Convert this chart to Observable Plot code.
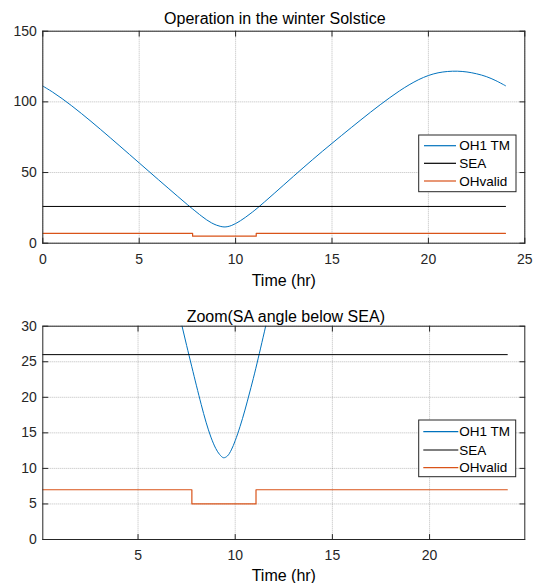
<!DOCTYPE html>
<html>
<head>
<meta charset="utf-8">
<script src="https://cdn.jsdelivr.net/npm/d3@7"></script>
<script src="https://cdn.jsdelivr.net/npm/@observablehq/plot@0.6"></script>
<style>
  body { margin: 0; background: white; }
  #chart svg { display: block; }
</style>
</head>
<body>
<div id="chart"></div>
<script>
// ---- data ----
const tHours = [0, 0.5, 1, 1.5, 2, 2.5, 3, 3.5, 4, 4.5, 5, 5.5, 6, 6.5, 7, 7.5, 8, 8.25, 8.5, 8.75, 9, 9.2, 9.4, 9.6, 9.8, 10, 10.25, 10.5, 10.75, 11, 11.5, 12, 12.5, 13, 13.5, 14, 14.5, 15, 15.5, 16, 16.5, 17, 17.5, 18, 18.5, 19, 19.5, 20, 20.5, 21, 21.5, 22, 22.5, 23, 23.5, 24];
const oh1TM = [111.2, 107.0, 102.3, 97.2, 91.8, 86.2, 80.45, 74.6, 68.7, 62.75, 56.8, 50.85, 44.9, 39.0, 33.1, 27.3, 21.7, 19.0, 16.5, 14.4, 12.8, 11.95, 11.5, 11.75, 12.6, 13.9, 15.9, 18.2, 20.75, 23.4, 29.2, 35.2, 41.25, 47.3, 53.3, 59.2, 65.0, 70.65, 76.25, 81.8, 87.3, 92.7, 97.95, 103.0, 107.75, 112.05, 115.75, 118.65, 120.55, 121.5, 121.7, 121.15, 119.85, 117.9, 115.0, 111.4];
const seaT = [0, 24];
const seaV = [26, 26];
const validT = [0, 7.77, 7.77, 11.07, 11.07, 24];
const validV = [7, 7, 5, 5, 7, 7];
const seriesNames = ["OH1 TM", "SEA", "OHvalid"];
const seriesColors = ["#0072BD", "#000000", "#D95319"];
const titles = ["Operation in the winter Solstice", "Zoom(SA angle below SEA)"];
const xLabel = "Time (hr)";
const xTicksTop = [0, 5, 10, 15, 20, 25];
const yTicksTop = [0, 50, 100, 150];
const xTicksBottom = [5, 10, 15, 20];
const yTicksBottom = [0, 5, 10, 15, 20, 25, 30];

const oh1Data = tHours.map((t, i) => ({t, v: oh1TM[i]}));
const seaData = seaT.map((t, i) => ({t, v: seaV[i]}));
const validData = validT.map((t, i) => ({t, v: validV[i]}));

const tickShape = {draw(context, l) { context.moveTo(0, 0); context.lineTo(0, -l); }};
const axisColor = "#262626";

function panel(o) {
  const tickOpts = {length: 5, anchor: "start", shape: tickShape, stroke: axisColor, strokeWidth: 1};
  const gridOpts = {stroke: axisColor, strokeOpacity: 0.3, strokeDasharray: "1,1", strokeWidth: 1};
  const plot = Plot.plot({
    width: 540,
    height: o.height,
    marginLeft: 42.3,
    marginRight: 15.7,
    marginTop: o.marginTop,
    marginBottom: o.marginBottom,
    style: {fontFamily: "'Liberation Sans', Arial, sans-serif", fontSize: "14px", color: axisColor, background: "white", overflow: "visible"},
    x: {domain: o.xDomain, ticks: o.xTicks, tickSize: 0, tickPadding: o.xPad, label: null},
    y: {domain: o.yDomain, ticks: o.yTicks, tickSize: 0, tickPadding: 6, label: null},
    marks: [
      Plot.ruleX(o.xTicks, gridOpts),
      Plot.ruleY(o.yTicks, gridOpts),
      Plot.line(oh1Data, {x: "t", y: "v", stroke: seriesColors[0], strokeWidth: 1, curve: "catmull-rom", clip: true}),
      Plot.line(seaData, {x: "t", y: "v", stroke: seriesColors[1], strokeWidth: 1, clip: true}),
      Plot.line(validData, {x: "t", y: "v", stroke: seriesColors[2], strokeWidth: 1.2, clip: true}),
      Plot.frame({stroke: axisColor, strokeWidth: 1}),
      Plot.vector(o.xTicks, {x: d => d, frameAnchor: "bottom", rotate: 0, ...tickOpts}),
      Plot.vector(o.xTicks, {x: d => d, frameAnchor: "top", rotate: 180, ...tickOpts}),
      Plot.vector(o.yTicks, {y: d => d, frameAnchor: "left", rotate: 90, ...tickOpts}),
      Plot.vector(o.yTicks, {y: d => d, frameAnchor: "right", rotate: -90, ...tickOpts}),
      Plot.text([o.title], {frameAnchor: "top", lineAnchor: "bottom", dy: o.titleDy, dx: o.titleDx, fontSize: 16, fill: "#000"}),
      Plot.text([xLabel], {frameAnchor: "bottom", lineAnchor: "bottom", dy: o.labelDy, fontSize: 16, fill: "#000"})
    ]
  });
  // legend
  const L = o.legend;
  const g = d3.select(plot).append("g").attr("class", "legend").attr("text-anchor", "start");
  g.append("rect").attr("x", L.x).attr("y", L.y).attr("width", L.w).attr("height", L.h)
    .attr("fill", "white").attr("stroke", axisColor).attr("stroke-width", 1);
  seriesNames.forEach((name, i) => {
    const cy = L.rows[i];
    g.append("line").attr("x1", L.lx1).attr("x2", L.lx2).attr("y1", cy).attr("y2", cy)
      .attr("stroke", seriesColors[i]).attr("stroke-width", 1.2);
    g.append("text").attr("x", L.tx).attr("y", cy).attr("dy", "0.35em")
      .attr("text-anchor", "start")
      .attr("font-size", 13.5).attr("fill", "#000").text(name);
  });
  return plot;
}

const chart = document.getElementById("chart");
chart.append(panel({
  height: 290, marginTop: 30.7, marginBottom: 47.3,
  xDomain: [0, 25], yDomain: [0, 150], xTicks: xTicksTop, yTicks: yTicksTop,
  xPad: 10.6, title: titles[0], titleDy: -7.4, titleDx: -9, labelDy: 42.3,
  legend: {x: 418.7, y: 135, w: 97.3, h: 56.7, rows: [145.7, 163.3, 181], lx1: 424, lx2: 456, tx: 459.3}
}));
chart.append(panel({
  height: 293, marginTop: 35.7, marginBottom: 44,
  xDomain: [0.1, 24.9], yDomain: [0, 30], xTicks: xTicksBottom, yTicks: yTicksBottom,
  xPad: 11, title: titles[1], titleDy: -4.7, titleDx: 2, labelDy: 41,
  legend: {x: 418.7, y: 130, w: 97, h: 56.7, rows: [141.7, 160, 177.7], lx1: 423.3, lx2: 458.3, tx: 459.3}
}));
</script>
</body>
</html>
